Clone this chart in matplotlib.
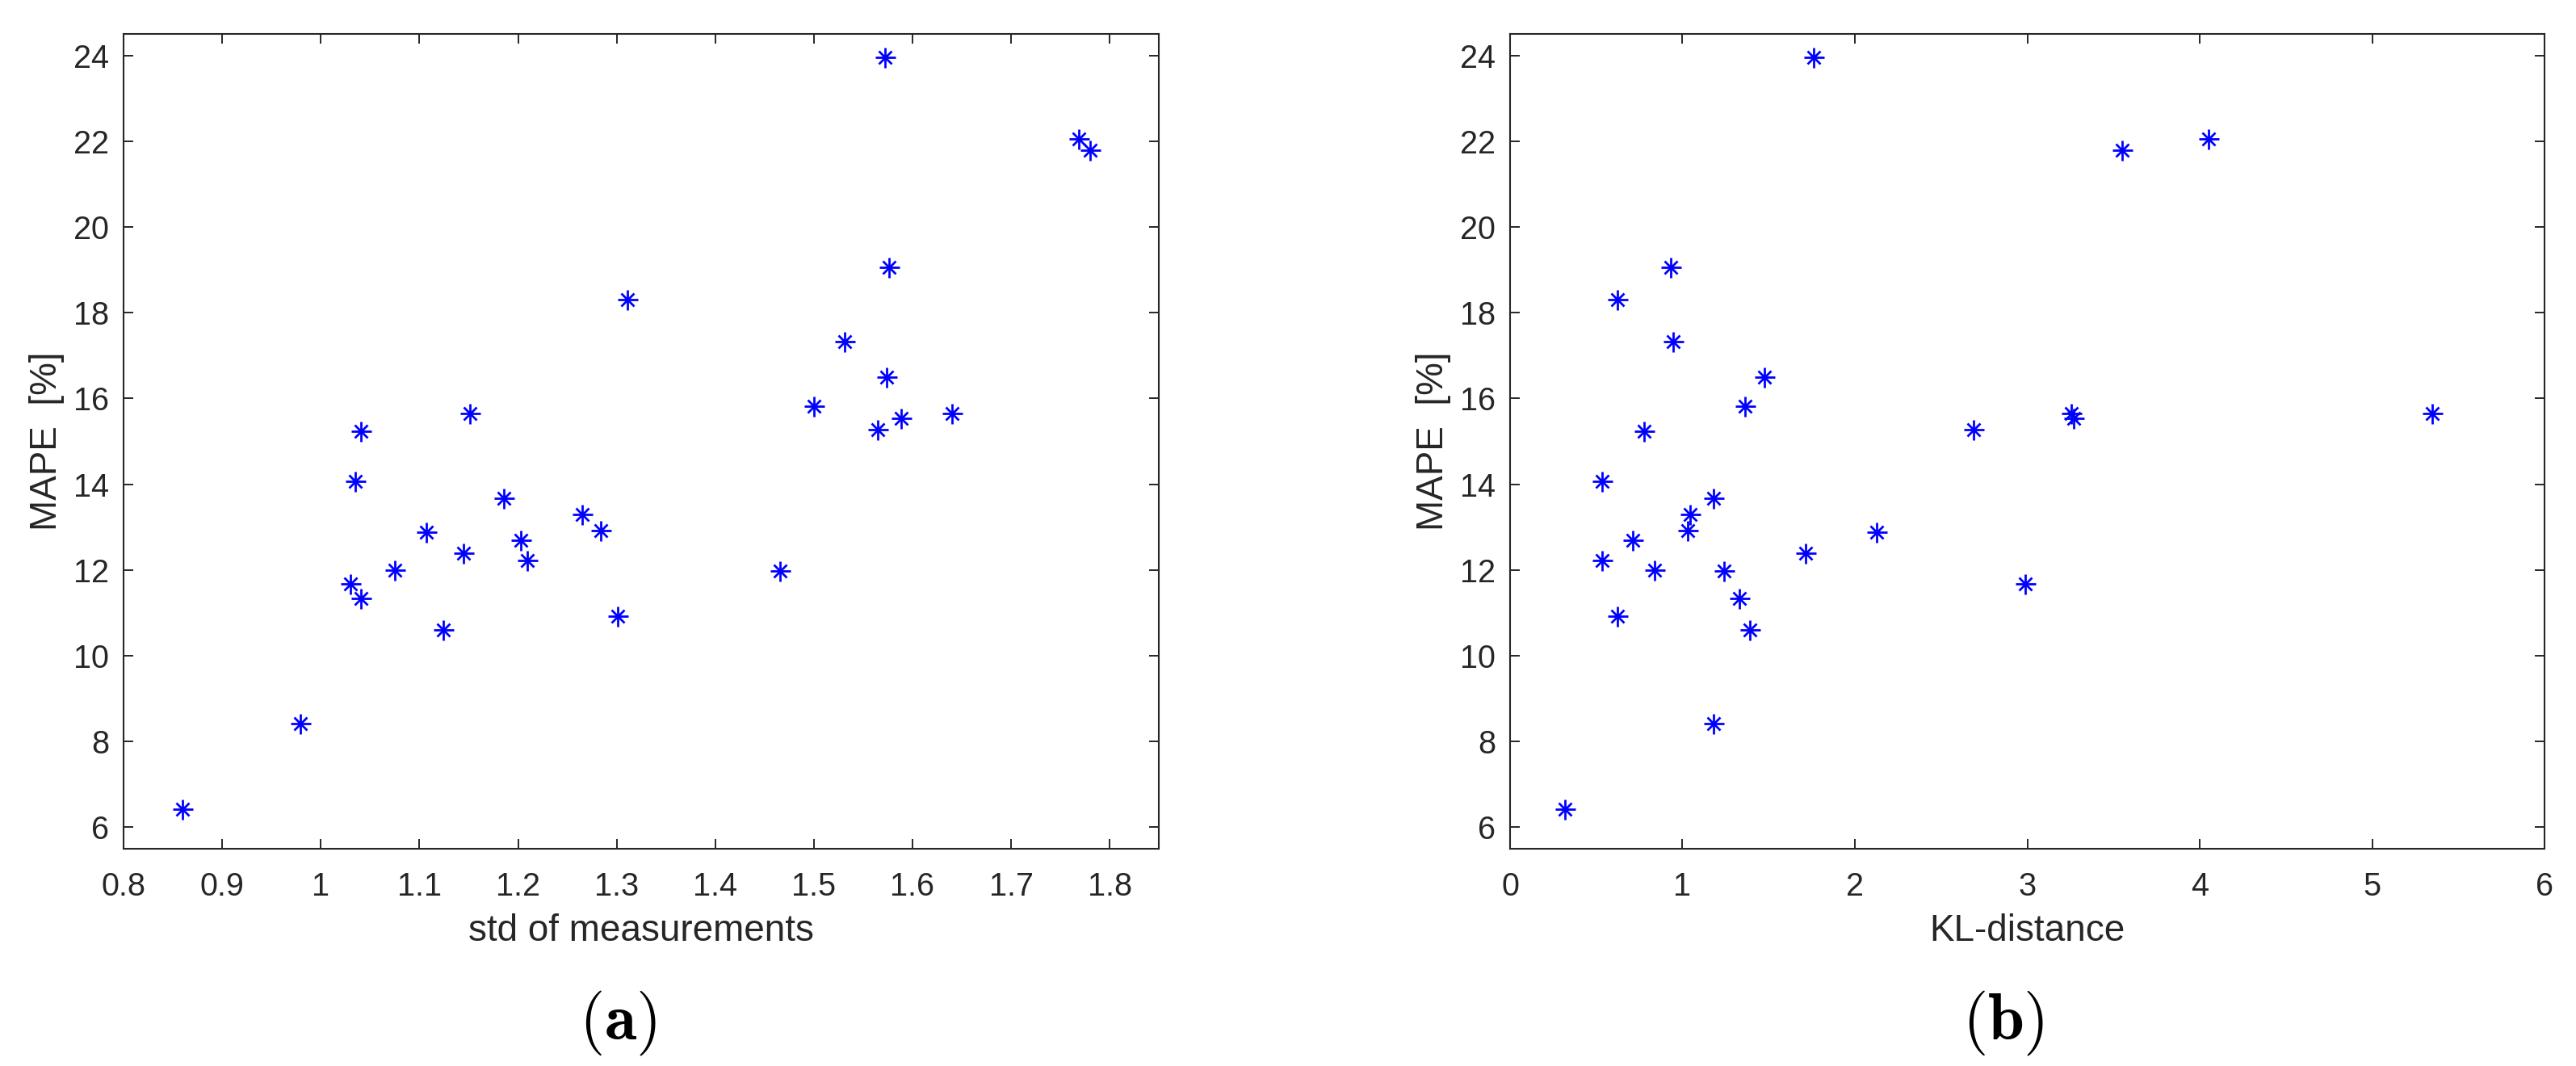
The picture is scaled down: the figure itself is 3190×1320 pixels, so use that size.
import matplotlib
matplotlib.use("Agg")
import matplotlib.pyplot as plt
from matplotlib.ticker import FormatStrFormatter, FuncFormatter

plt.rcParams['font.family'] = ['Liberation Sans', 'DejaVu Sans']
plt.rcParams['mathtext.fontset'] = 'cm'

# ---- data ----
mape = [6.43, 8.41, 11.68, 11.33, 14.07, 15.23, 12.00, 12.88, 10.61, 12.39,
        15.65, 13.67, 12.69, 12.22, 13.29, 12.92, 10.93, 18.30, 11.98, 15.82,
        17.32, 23.95, 19.05, 16.49, 15.27, 15.54, 15.64, 22.05, 21.78]
std_meas = [0.860, 0.979, 1.030, 1.041, 1.035, 1.041, 1.075, 1.107, 1.124, 1.145,
            1.151, 1.186, 1.203, 1.209, 1.265, 1.284, 1.301, 1.311, 1.466, 1.500,
            1.531, 1.572, 1.576, 1.574, 1.565, 1.589, 1.640, 1.769, 1.780]
kl_dist = [0.32, 1.18, 2.99, 1.33, 0.536, 0.778, 0.837, 2.127, 1.39, 1.712,
           3.256, 1.18, 0.711, 0.536, 1.044, 1.032, 0.625, 0.625, 1.243, 1.364,
           0.946, 1.759, 0.934, 1.474, 2.69, 3.268, 5.348, 4.05, 3.55]

left_xticks = [0.8, 0.9, 1.0, 1.1, 1.2, 1.3, 1.4, 1.5, 1.6, 1.7, 1.8]
right_xticks = [0, 1, 2, 3, 4, 5, 6]
yticks = [6, 8, 10, 12, 14, 16, 18, 20, 22, 24]

xlabels = ["std of measurements", "KL-distance"]
ylabel = "MAPE  [%]"
panel_tags = ["(a)", "(b)"]

# ---- style ----
TXT = '#262626'
fig = plt.figure(figsize=(31.9, 13.2), dpi=100)

ax1 = fig.add_axes([0.048, 0.2038, 0.4019, 0.7644])
ax2 = fig.add_axes([0.5862, 0.2038, 0.4016, 0.7644])

def gfmt(v, pos):
    return '%g' % v

for ax, xs, xt, xl, xlim in [(ax1, std_meas, left_xticks, xlabels[0], (0.8, 1.85)),
                             (ax2, kl_dist, right_xticks, xlabels[1], (0, 6))]:
    ax.plot(xs, mape, linestyle='none', marker='+', markersize=18,
            markeredgewidth=2.0, color='#0000FF')
    ax.plot(xs, mape, linestyle='none', marker='x', markersize=12,
            markeredgewidth=2.0, color='#0000FF')
    ax.set_xlim(*xlim)
    ax.set_ylim(5.5, 24.5)
    ax.set_xticks(xt)
    ax.set_yticks(yticks)
    ax.xaxis.set_major_formatter(FuncFormatter(gfmt))
    ax.tick_params(axis='both', which='both', direction='in', length=8.5, width=1.4,
                   top=True, right=True, color=TXT, labelcolor=TXT, labelsize=28.5)
    ax.tick_params(axis='x', pad=20)
    ax.tick_params(axis='y', pad=13)
    for s in ax.spines.values():
        s.set_linewidth(1.5)
        s.set_color(TXT)
    ax.set_xlabel(xl, fontsize=33, color=TXT, labelpad=10)
    ax.set_ylabel(ylabel, fontsize=33, color=TXT, labelpad=8)

fig.text(765 / 3190, 1 - 1267 / 1320, r'$(\mathbf{a})$', fontsize=58,
         ha='center', va='center', color='black')
fig.text(2481 / 3190, 1 - 1267 / 1320, r'$(\mathbf{b})$', fontsize=58,
         ha='center', va='center', color='black')

fig.savefig('out.png', dpi=100, facecolor='white')
